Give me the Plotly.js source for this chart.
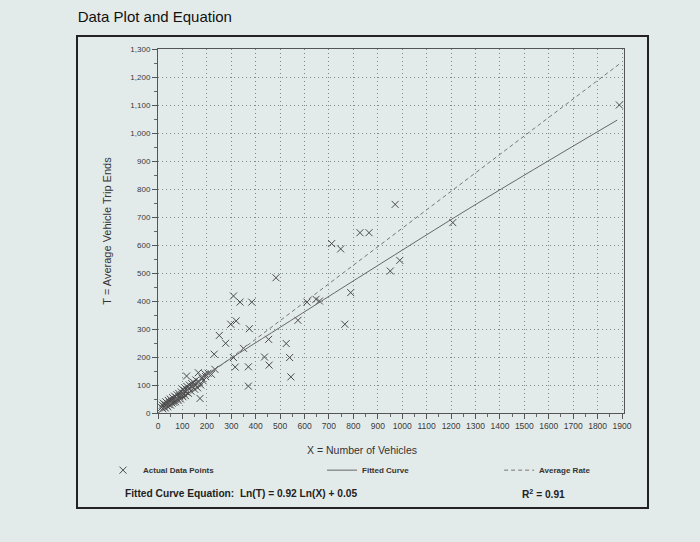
<!DOCTYPE html>
<html>
<head>
<meta charset="utf-8">
<script src="https://cdn.plot.ly/plotly-3.0.1.min.js"></script>
<style>
html, body { margin:0; padding:0; background:#e3ebea; }
#plot { width:700px; height:542px; }
</style>
</head>
<body>
<div id="plot"></div>
<script>
// actual data points (X = vehicles, T = trip ends)
var pointsX = [15, 18, 20, 22, 25, 28, 30, 32, 35, 38, 40, 42, 45, 48, 50, 52, 55, 58, 60, 62,
  65, 68, 70, 72, 75, 78, 80, 82, 85, 88, 90, 92, 95, 98, 100, 102, 105, 108, 110, 112,
  115, 118, 120, 125, 128, 130, 135, 138, 140, 145, 150, 152, 155, 160, 162, 168, 175, 180, 185, 195, 205,
  117, 165, 192, 219, 172, 233, 230, 251, 277, 298, 320, 309, 316, 350, 370, 370, 374,
  309, 336, 384, 436, 453, 455, 483, 525, 539, 544, 573, 610, 647, 661, 765, 789,
  711, 748, 827, 864, 951, 971, 990, 1207, 1889];
var pointsT = [20, 28, 15, 35, 22, 30, 18, 40, 28, 35, 22, 45, 30, 38, 50, 28, 42, 35, 55, 45,
  38, 60, 48, 40, 55, 65, 50, 45, 70, 58, 62, 50, 75, 65, 85, 58, 70, 80, 90, 62,
  75, 95, 82, 70, 100, 88, 78, 105, 95, 110, 85, 100, 118, 105, 90, 112, 100, 125, 115, 130, 142,
  132, 144, 140, 138, 52, 156, 210, 277, 249, 317, 329, 198, 164, 231, 165, 96, 301,
  418, 396, 396, 200, 263, 171, 483, 248, 198, 129, 331, 396, 406, 400, 317, 430,
  605, 586, 644, 644, 507, 745, 545, 680, 1100];

// fitted curve Ln(T) = 0.92 Ln(X) + 0.05
var fitX = [20, 100, 233, 500, 864, 1303, 1880];
var fitT = [16, 72, 157, 306, 507, 746, 1046];

// average rate line
var rateX = [0, 1890];
var rateT = [0, 1247];

var fontFam = '"Liberation Sans", Arial, sans-serif';

var data = [
  {x: pointsX, y: pointsT, mode: "markers", type: "scatter", name: "Actual Data Points",
   marker: {symbol: "x-thin-open", size: 7, color: "#4a4a4a", line: {width: 1, color: "#4a4a4a"}},
   legend: "legend"},
  {x: fitX, y: fitT, mode: "lines", type: "scatter", name: "Fitted Curve",
   line: {color: "#666", width: 1, shape: "spline"}, legend: "legend2"},
  {x: rateX, y: rateT, mode: "lines", type: "scatter", name: "Average Rate",
   line: {color: "#777", width: 1, dash: "4px,3px"}, legend: "legend3"}
];

var legFont = {family: fontFam, size: 8, color: "#333", weight: "bold"};
var layout = {
  width: 700, height: 542,
  margin: {l: 158, r: 76, t: 49, b: 129},
  paper_bgcolor: "#e3ebea",
  plot_bgcolor: "rgba(0,0,0,0)",
  font: {family: fontFam, color: "#333"},
  title: {text: "Data Plot and Equation", font: {family: fontFam, size: 15, color: "#111"},
    xref: "container", x: 0.111, xanchor: "left", y: 0.969, yanchor: "middle"},
  showlegend: true,
  legend: {x: -0.118, y: -0.157, xanchor: "left", yanchor: "middle", bgcolor: "rgba(0,0,0,0)", font: legFont},
  legend2: {x: 0.352, y: -0.157, xanchor: "left", yanchor: "middle", bgcolor: "rgba(0,0,0,0)", font: legFont},
  legend3: {x: 0.732, y: -0.157, xanchor: "left", yanchor: "middle", bgcolor: "rgba(0,0,0,0)", font: legFont},
  xaxis: {
    range: [0, 1908], tick0: 0, dtick: 100, zeroline: false,
    showline: true, linecolor: "#555", linewidth: 1, mirror: true,
    ticks: "outside", ticklen: 5, tickcolor: "#555",
    minor: {dtick: 50, ticks: "outside", ticklen: 3, tickcolor: "#666", showgrid: false},
    showgrid: true, gridcolor: "#7f8a8a", griddash: "1px,3px", gridwidth: 1,
    tickfont: {size: 8.5, color: "#3a3a3a"}
  },
  yaxis: {
    range: [0, 1300], tick0: 0, dtick: 100, zeroline: false, tickformat: ",d",
    showline: true, linecolor: "#555", linewidth: 1, mirror: true,
    ticks: "outside", ticklen: 5, tickcolor: "#555",
    minor: {dtick: 50, ticks: "outside", ticklen: 3, tickcolor: "#666", showgrid: false},
    showgrid: true, gridcolor: "#7f8a8a", griddash: "1px,3px", gridwidth: 1,
    tickfont: {size: 8, color: "#3a3a3a"},
    title: {text: "T = Average Vehicle Trip Ends", font: {size: 11, color: "#333"}, standoff: 16}
  },
  shapes: [
    {type: "rect", xref: "paper", yref: "paper", x0: -0.1738, x1: 1.0515, y0: -0.261, y1: 1.0357,
     line: {color: "#222", width: 2}}
  ],
  annotations: [
    {xref: "paper", yref: "paper", x: 0.438, y: -0.1016, xanchor: "center", yanchor: "middle", showarrow: false,
     text: "X = Number of Vehicles", font: {family: fontFam, size: 10.5, color: "#333"}},
    {xref: "paper", yref: "paper", x: -0.075, y: -0.2225, xanchor: "left", yanchor: "middle", showarrow: false,
     text: "Fitted Curve Equation:  Ln(T) = 0.92 Ln(X) + 0.05",
     font: {family: fontFam, size: 10.2, color: "#222", weight: "bold"}},
    {xref: "paper", yref: "paper", x: 0.777, y: -0.2225, xanchor: "left", yanchor: "middle", showarrow: false,
     text: "R<sup>2</sup> = 0.91",
     font: {family: fontFam, size: 10.2, color: "#222", weight: "bold"}}
  ]
};

Plotly.newPlot("plot", data, layout, {displayModeBar: false});
</script>
</body>
</html>
